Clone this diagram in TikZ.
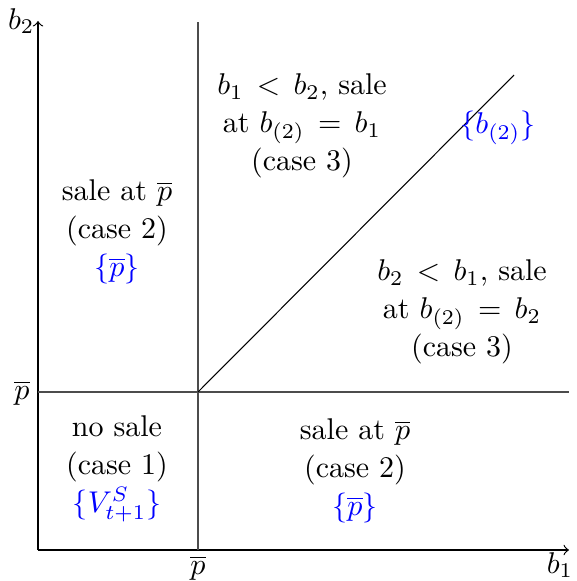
\documentclass[tikz,border=0pt]{standalone}
\usepackage{amsmath}
\begin{document}
\begin{tikzpicture}[x=0.3333pt,y=-0.3333pt,
  txt/.style={align=center,font=\fontsize{10}{12.6}\selectfont,inner sep=0pt},
  lbl/.style={font=\fontsize{10}{12}\selectfont,inner sep=1pt},
  bl/.style={text=blue},
  axis/.style={line width=0.4pt,->},
  divider/.style={line width=0.5pt,draw=black!70},
  diag/.style={line width=0.35pt}]
\useasboundingbox (0,0) rectangle (576,581);
\coordinate (O) at (38,550);
\coordinate (Ytip) at (38,21);
\coordinate (Xtip) at (569,550);
\coordinate (Vtop) at (198,22);
\coordinate (Vbot) at (198,550);
\coordinate (Hleft) at (38,392);
\coordinate (Hright) at (569,392);
\coordinate (P) at (198,392);
\coordinate (D) at (514,75);
\draw[axis] (O) -- (Ytip);
\draw[axis] (O) -- (Xtip);
\draw[divider] (Vbot) -- (Vtop);
\draw[divider] (Hleft) -- (Hright);
\draw[diag] (P) -- (D);
\node[lbl,anchor=east] (b2) at (Ytip) {$b_2$};
\node[lbl] (b1) at (560,565) {$b_1$};
\node[lbl] (pl) at (22,393) {$\overline{p}$};
\node[lbl] (pb) at (198,568) {$\overline{p}$};
\node[txt] (ul) at (117,232) {sale at $\overline{p}$\\(case 2)\\\textcolor{blue}{$\{\overline{p}\}$}};
\node[txt] (um) at (302,126) {$b_1\,<\,b_2$, sale\\at $b_{(2)}\,=\,b_1$\\(case 3)};
\node[txt,bl] (bb) at (498,128) {$\{b_{(2)}\}$};
\node[txt] (mr) at (462,312) {$b_2\,<\,b_1$, sale\\at $b_{(2)}\,=\,b_2$\\(case 3)};
\node[txt] (ll) at (117,469) {no sale\\(case 1)\\\textcolor{blue}{$\{V^S_{t+1}\}$}};
\node[txt] (lr) at (355,471) {sale at $\overline{p}$\\(case 2)\\\textcolor{blue}{$\{\overline{p}\}$}};
\end{tikzpicture}
\end{document}
